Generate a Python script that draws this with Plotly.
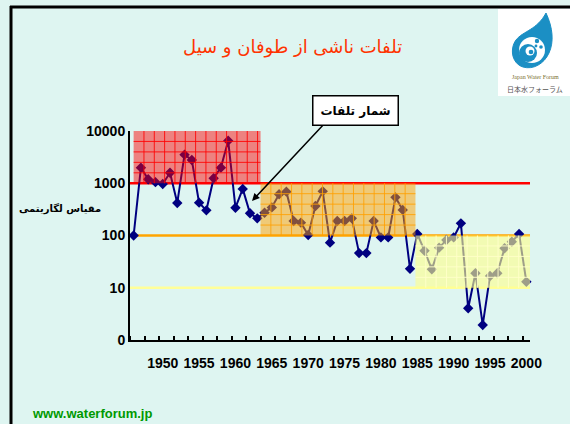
import math
import plotly.graph_objects as go

# ---------------- data ----------------
years = list(range(1946, 2001))
deaths = [100, 1990, 1190, 1050, 970, 1590, 420, 3530, 2790, 425, 303, 1245, 1990, 6530, 340, 780, 266, 213,
          273, 345, 616, 690, 190, 176, 102, 367, 700, 73, 190, 190, 213, 46, 46, 190, 92, 92, 537, 309, 23,
          107, 51, 22.5, 58.5, 82, 92, 171, 4.05, 18.9, 1.94, 16.8, 18.9, 57, 76, 107, 13]

x_tick_vals = [1950, 1955, 1960, 1965, 1970, 1975, 1980, 1985, 1990, 1995, 2000]
x_tick_text = [str(v) for v in x_tick_vals]
y_tick_vals = [1, 10, 100, 1000, 10000]
y_tick_text = ["0", "10", "100", "1000", "10000"]

# shaded periods
zone_start = [1946, 1963.45, 1984.75]
zone_end = [1963.45, 1984.75, 2000.5]
zone_low = [1000, 100, 10]
zone_high = [10000, 1000, 100]

threshold_vals = [1000, 100, 10]

title_text = "تلفات ناشی از طوفان و سیل"
callout_text = "شمار تلفات"
y_title_text = "مقیاس لگاریتمی"
url_text = "www.waterforum.jp"

# ---------------- styles ----------------
BG = "#def5f1"
W, H = 570, 424
ML, MR, MT, MB = 130, 40, 131, 84
PW, PH = W - ML - MR, H - MT - MB
XR = [1945.5, 2000.5]
YR = [0, 4]

zone_fill = ["rgba(255,0,0,0.47)", "rgba(255,160,0,0.5)", "rgba(255,255,140,0.62)"]
zone_grid = ["rgba(255,0,0,0.85)", "rgba(255,160,0,0.85)", "rgba(255,255,200,0.95)"]
threshold_colors = ["#ff0000", "#ffa500", "#ffff99"]


def py2paper(py):
    return (MT + PH - py) / PH


def px2paper(px):
    return (px - ML) / PW


def logp(v):
    return (math.log10(v) - YR[0]) / (YR[1] - YR[0])


fig = go.Figure()
fig.add_trace(go.Scatter(
    x=years, y=deaths, mode="lines+markers",
    line=dict(color="#000080", width=2),
    marker=dict(symbol="diamond", size=8, color="#000080"),
    cliponaxis=False, showlegend=False, hoverinfo="x+y"))

shapes = []
# threshold lines
for v, c in zip(threshold_vals, threshold_colors):
    shapes.append(dict(type="line", xref="paper", yref="paper", x0=0, x1=1,
                       y0=logp(v), y1=logp(v), line=dict(color=c, width=2.5), layer="below"))

# shaded zones with grids
for x0, x1, lo, hi, fc, gc in zip(zone_start, zone_end, zone_low, zone_high, zone_fill, zone_grid):
    y0, y1 = logp(lo), logp(hi)
    shapes.append(dict(type="rect", xref="x", yref="paper", x0=x0, x1=x1, y0=y0, y1=y1,
                       fillcolor=fc, line=dict(width=0), layer="above"))
    step = 1.42
    gx = x0 + step
    while gx < x1 - 0.2:
        shapes.append(dict(type="line", xref="x", yref="paper", x0=gx, x1=gx, y0=y0, y1=y1,
                           line=dict(color=gc, width=1), layer="above"))
        gx += step
    for k in range(1, 5):
        gy = y0 + (y1 - y0) * k / 5
        shapes.append(dict(type="line", xref="x", yref="paper", x0=x0, x1=x1, y0=gy, y1=gy,
                           line=dict(color=gc, width=1), layer="above"))

# frame lines (left and top)
shapes.append(dict(type="line", xref="paper", yref="paper", x0=px2paper(11), x1=px2paper(11),
                   y0=py2paper(6), y1=py2paper(430), line=dict(color="black", width=3)))
shapes.append(dict(type="line", xref="paper", yref="paper", x0=px2paper(10), x1=px2paper(580),
                   y0=py2paper(7), y1=py2paper(7), line=dict(color="black", width=3)))

# logo
shapes.append(dict(type="rect", xref="paper", yref="paper", x0=px2paper(498), x1=px2paper(575),
                   y0=py2paper(9), y1=py2paper(96), fillcolor="white", line=dict(width=0)))


def P(px, py):
    return f"{px2paper(px):.5f},{py2paper(py):.5f}"


drop = (f"M {P(546,13)} C {P(553,28)} {P(554,42)} {P(549,53)} "
        f"C {P(544,64)} {P(533,70)} {P(523,67)} "
        f"C {P(511,63)} {P(510,48)} {P(516,40)} "
        f"C {P(523,31)} {P(537,30)} {P(546,13)} Z")
shapes.append(dict(type="path", xref="paper", yref="paper", path=drop,
                   fillcolor="#1b8fc4", line=dict(color="#1b8fc4", width=1)))


def circ(cx, cy, r, col):
    return dict(type="circle", xref="paper", yref="paper",
                x0=px2paper(cx - r), x1=px2paper(cx + r), y0=py2paper(cy + r), y1=py2paper(cy - r),
                fillcolor=col, line=dict(width=0))


shapes.append(circ(532, 50, 13, "white"))
shapes.append(circ(528, 53, 9, "#1b8fc4"))
shapes.append(circ(530, 51, 4.5, "white"))
shapes.append(circ(531, 52, 2.3, "#1b8fc4"))
shapes.append(circ(537, 41, 2.2, "#1b8fc4"))
shapes.append(circ(541, 47, 1.8, "#1b8fc4"))
shapes.append(circ(536, 46, 1.4, "#1b8fc4"))


def ann(text, px, py, **kw):
    d = dict(text=text, xref="paper", yref="paper", x=px2paper(px), y=py2paper(py),
             xanchor="center", yanchor="middle", showarrow=False)
    d.update(kw)
    return d


annotations = [
    ann(title_text, 292, 47, font=dict(family="DejaVu Sans", size=18, color="#ff3300")),
    dict(text="", xref="paper", yref="paper", x=px2paper(252), y=py2paper(201),
         ax=73, ay=-78, showarrow=True, arrowhead=2, arrowsize=1, arrowwidth=1.5, arrowcolor="black"),
    ann("<b>" + callout_text + "</b>", 355, 110, font=dict(family="DejaVu Sans", size=12, color="black"),
        bgcolor="white", bordercolor="black", borderwidth=1.5, borderpad=7),
    ann("<b>" + y_title_text + "</b>", 60, 208, font=dict(family="DejaVu Sans", size=10, color="black")),
    ann("<b>" + url_text + "</b>", 92, 413, font=dict(family="Liberation Sans", size=13, color="#009900")),
    ann("Japan Water Forum", 535, 77, font=dict(family="Liberation Serif", size=6, color="#7a7030")),
    ann("日本水フォーラム", 535, 89, font=dict(family="Noto Sans CJK JP", size=7, color="#555555")),
]

fig.update_layout(
    width=W, height=H,
    margin=dict(l=ML, r=MR, t=MT, b=MB),
    paper_bgcolor=BG, plot_bgcolor=BG,
    shapes=shapes, annotations=annotations,
    showlegend=False,
    font=dict(family="Liberation Sans", size=14, color="black"),
    xaxis=dict(range=XR, showgrid=False, zeroline=False, showline=True, linecolor="black", linewidth=2,
               tickmode="array", tickvals=x_tick_vals, ticktext=x_tick_text, ticks="",
               tickfont=dict(family="Liberation Sans", size=14, color="black", weight="bold"),
               ticklabelstandoff=9,
               minor=dict(tickmode="linear", tick0=1945.5, dtick=2, ticks="inside", ticklen=4,
                          tickwidth=1.5, tickcolor="black", showgrid=False)),
    yaxis=dict(type="log", range=YR, showgrid=False, zeroline=False, showline=True, linecolor="black",
               linewidth=2, tickmode="array", tickvals=y_tick_vals, ticktext=y_tick_text, ticks="",
               tickfont=dict(family="Liberation Sans", size=14, color="black", weight="bold")),
)

fig.write_html("out.html", config={"displayModeBar": False},
               post_script="document.body.style.margin='0';document.body.style.background='%s';" % BG)
